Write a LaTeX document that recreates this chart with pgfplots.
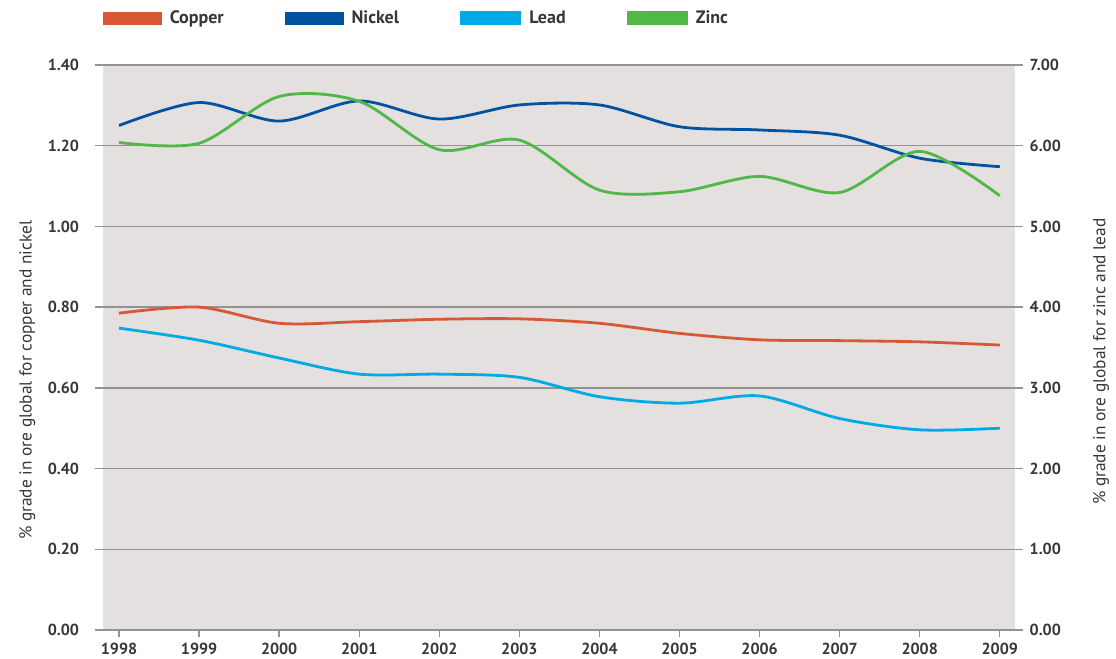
\documentclass[border=0pt]{standalone}
\usepackage{fontspec}
\setmainfont{PT Sans}
\usepackage{pgfplots}
\pgfplotsset{compat=1.18}
\definecolor{cu}{RGB}{215,88,52}
\definecolor{ni}{RGB}{0,83,160}
\definecolor{pb}{RGB}{0,170,228}
\definecolor{zn}{RGB}{80,183,72}
\definecolor{bggray}{RGB}{227,224,223}
\definecolor{gridgray}{RGB}{150,146,145}
\definecolor{txt}{RGB}{55,55,55}
\pgfplotsset{
  common/.style={
    scale only axis, width=696pt, height=423.75pt,
    xmin=1997.7, xmax=2009.29,
    /pgf/number format/assume math mode=true,
    ticklabel style={font=\bfseries\fontsize{12}{14}\selectfont, text=txt},
    label style={font=\fontsize{13}{15}\selectfont, text=txt},
  },
  series/.style={line width=2.1pt, smooth, tension=0.5, no markers},
}
\begin{document}
\begin{tikzpicture}
% background panel
\begin{axis}[scale only axis, width=684pt, height=423.75pt, at={(6pt,0pt)}, anchor=south west,
  xmin=0, xmax=1, ymin=0, ymax=1, xtick=\empty, ytick=\empty,
  axis line style={draw=none}, axis background/.style={fill=bggray}]
\end{axis}
% left axis: copper, nickel
\begin{axis}[common,
  ymin=0, ymax=1.4,
  ytick={0,0.2,0.4,0.6,0.8,1.0,1.2,1.4},
  ytick pos=left,
  yticklabel style={/pgf/number format/.cd, fixed, fixed zerofill, precision=2, /tikz/.cd, xshift=-3pt},
  ymajorgrids, grid style={draw=gridgray, line width=1pt},
  xtick={1998,1999,2000,2001,2002,2003,2004,2005,2006,2007,2008,2009},
  xtick pos=bottom,
  xticklabel style={/pgf/number format/1000 sep={}, yshift=-1pt},
  tick align=outside,
  x tick style={draw=gridgray, line width=1pt},
  major tick length=5.5pt,
  y tick style={draw=none},
  axis line style={draw=none},
  ylabel={\% grade in ore global for copper and nickel},
  ylabel style={at={(axis description cs:-0.073,0.442)}, anchor=center, rotate=0},
]
\addplot[series, cu] coordinates {
(1998,0.785) (1999,0.800) (2000,0.760) (2001,0.764) (2002,0.770) (2003,0.771)
(2004,0.760) (2005,0.735) (2006,0.719) (2007,0.717) (2008,0.714) (2009,0.706)};
\addplot[series, ni] coordinates {
(1998,1.250) (1999,1.307) (2000,1.261) (2001,1.311) (2002,1.266) (2003,1.301)
(2004,1.301) (2005,1.247) (2006,1.239) (2007,1.226) (2008,1.169) (2009,1.148)};
\end{axis}
% right axis: lead, zinc
\begin{axis}[common,
  ymin=0, ymax=7,
  ytick={0,1,2,3,4,5,6,7},
  axis y line*=right,
  axis x line=none,
  yticklabel style={/pgf/number format/.cd, fixed, fixed zerofill, precision=2, /tikz/.cd, xshift=1.5pt},
  y tick style={draw=none},
  axis line style={draw=none},
  ylabel={\% grade in ore global for zinc and lead},
  ylabel style={at={(axis description cs:1.084,0.475)}, anchor=center, rotate=0},
  legend columns=4,
  legend style={at={(axis description cs:0.0086,1)}, anchor=west, yshift=35.25pt,
    draw=none, fill=none, inner sep=0pt,
    font=\bfseries\fontsize{13.5}{15}\selectfont, text=txt,
    /tikz/every even column/.append style={column sep=44pt}},
  legend cell align=left,
  legend image code/.code={\fill[#1] (0pt,-4.5pt) rectangle (43.5pt,4.5pt); \path (47.5pt,0pt);},
]
\addlegendimage{cu, fill=cu}
\addlegendentry{Copper}
\addlegendimage{ni, fill=ni}
\addlegendentry{Nickel}
\addplot[series, pb] coordinates {
(1998,3.74) (1999,3.59) (2000,3.37) (2001,3.17) (2002,3.17) (2003,3.13)
(2004,2.89) (2005,2.81) (2006,2.90) (2007,2.62) (2008,2.48) (2009,2.50)};
\addlegendentry{Lead}
\addplot[series, zn] coordinates {
(1998,6.04) (1999,6.03) (2000,6.61) (2001,6.55) (2002,5.95) (2003,6.07)
(2004,5.45) (2005,5.43) (2006,5.62) (2007,5.42) (2008,5.93) (2009,5.38)};
\addlegendentry{Zinc}
\end{axis}
\pgfresetboundingbox
\path[use as bounding box] (-71.25pt,-21.75pt) rectangle (765.75pt,472.5pt);
\end{tikzpicture}
\end{document}
